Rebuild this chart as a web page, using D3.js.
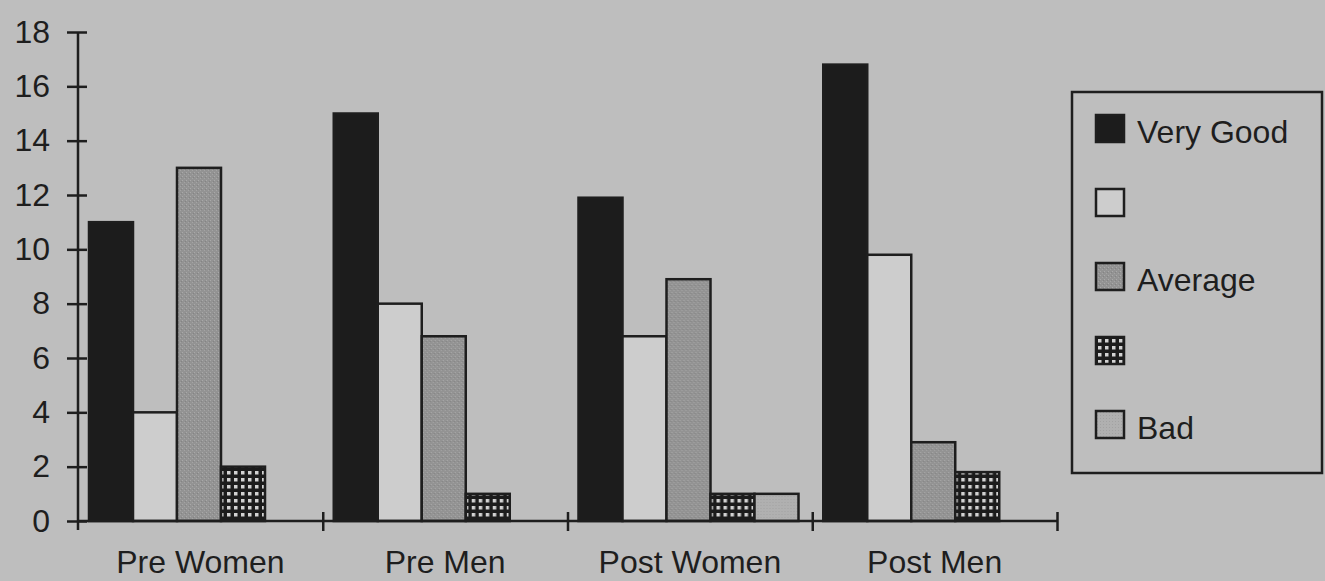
<!DOCTYPE html>
<html>
<head>
<meta charset="utf-8">
<script src="https://cdn.jsdelivr.net/npm/d3@7"></script>
<style>
  html, body { margin: 0; padding: 0; background: #bebebe; }
  svg { display: block; }
  text { font-family: "Liberation Sans", Arial, Helvetica, sans-serif; fill: #1e1e1e; }
</style>
</head>
<body>
<svg id="chart" width="1325" height="581"></svg>
<script>
// Groups along the x axis
const categories = ["Pre Women", "Pre Men", "Post Women", "Post Men"];

// Series keys (in bar order) and the names shown in the legend
const seriesKeys = ["veryGood", "good", "average", "poor", "bad"];
const seriesLabels = ["Very Good", "", "Average", "", "Bad"];

// Counts per series, one value per category
const veryGood = [11, 15, 11.9, 16.8];
const good     = [4, 8, 6.8, 9.8];
const average  = [13, 6.8, 8.9, 2.9];
const poor     = [2, 1, 1, 1.8];
const bad      = [0, 0, 1, 0];

const yTicks = [0, 2, 4, 6, 8, 10, 12, 14, 16, 18];

const seriesValues = { veryGood, good, average, poor, bad };

const svg = d3.select("#chart");
const ink = "#1e1e1e";

// Fill patterns
const defs = svg.append("defs");

const pAvg = defs.append("pattern").attr("id", "fill-average")
  .attr("patternUnits", "userSpaceOnUse").attr("width", 4).attr("height", 4);
pAvg.append("rect").attr("width", 4).attr("height", 4).attr("fill", "#939393");
pAvg.append("rect").attr("x", 0).attr("y", 0).attr("width", 1).attr("height", 1).attr("fill", "#a9a9a9");
pAvg.append("rect").attr("x", 2).attr("y", 2).attr("width", 1).attr("height", 1).attr("fill", "#a4a4a4");
pAvg.append("rect").attr("x", 3).attr("y", 1).attr("width", 1).attr("height", 1).attr("fill", "#848484");

const pBad = defs.append("pattern").attr("id", "fill-bad")
  .attr("patternUnits", "userSpaceOnUse").attr("width", 3).attr("height", 3);
pBad.append("rect").attr("width", 3).attr("height", 3).attr("fill", "#b0b0b0");
pBad.append("rect").attr("x", 1).attr("y", 1).attr("width", 1).attr("height", 1).attr("fill", "#a2a2a2");

const pPoor = defs.append("pattern").attr("id", "fill-poor")
  .attr("patternUnits", "userSpaceOnUse").attr("width", 7).attr("height", 7);
pPoor.append("rect").attr("width", 7).attr("height", 7).attr("fill", "#1c1c1c");
pPoor.append("rect").attr("x", 2).attr("y", 2).attr("width", 3.5).attr("height", 3.5).attr("fill", "#d2d2d2");

const fills = {
  veryGood: "#1c1c1c",
  good: "#cdcdcd",
  average: "url(#fill-average)",
  poor: "url(#fill-poor)",
  bad: "url(#fill-bad)"
};

// Scales
const y = d3.scaleLinear().domain([0, 18]).range([521, 32]);
const x0 = d3.scaleBand().domain(categories).range([78, 1057]).padding(0);
const x1 = d3.scaleBand().domain(seriesKeys).range([10, 230]).padding(0);

// Bars
const groups = svg.append("g").selectAll("g")
  .data(categories)
  .join("g")
  .attr("transform", d => `translate(${x0(d)},0)`);

groups.selectAll("rect")
  .data((c, i) => seriesKeys.map(k => ({ key: k, value: seriesValues[k][i] })).filter(d => d.value > 0))
  .join("rect")
  .attr("x", d => x1(d.key) + 1)
  .attr("y", d => y(d.value))
  .attr("width", x1.bandwidth())
  .attr("height", d => y(0) - y(d.value))
  .attr("fill", d => fills[d.key])
  .attr("stroke", ink)
  .attr("stroke-width", 2.5);

// Y axis with ticks crossing the line
const yAxis = svg.append("g")
  .attr("transform", "translate(78,0)")
  .call(d3.axisLeft(y).tickValues(yTicks).tickSize(0).tickPadding(28));
yAxis.select(".domain").attr("d", `M0,${y(18)}V${y(0) + 9}`)
  .attr("stroke", ink).attr("stroke-width", 2.5);
yAxis.selectAll(".tick line").attr("x1", -11).attr("x2", 9)
  .attr("stroke", ink).attr("stroke-width", 2.5);
yAxis.selectAll(".tick text")
  .style("font-size", "32px").attr("fill", ink);

// X axis: baseline with ticks at the group boundaries
const xb = d3.scaleLinear().domain([0, categories.length]).range(x0.range());
const xAxis = svg.append("g")
  .attr("transform", `translate(0,${y(0)})`)
  .call(d3.axisBottom(xb).tickValues(d3.range(1, categories.length + 1)).tickSize(0).tickFormat(""));
xAxis.select(".domain").attr("d", `M${x0.range()[0]},0H${x0.range()[1]}`)
  .attr("stroke", ink).attr("stroke-width", 2.5);
xAxis.selectAll(".tick line").attr("y1", -9).attr("y2", 10)
  .attr("stroke", ink).attr("stroke-width", 2.5);

// Category labels
svg.append("g").selectAll("text")
  .data(categories)
  .join("text")
  .attr("x", d => x0(d) + x0.bandwidth() / 2)
  .attr("y", 573)
  .attr("text-anchor", "middle")
  .style("font-size", "32px")
  .text(d => d);

// Legend
const legend = svg.append("g");
legend.append("rect")
  .attr("x", 1072).attr("y", 92).attr("width", 250).attr("height", 381)
  .attr("fill", "none").attr("stroke", ink).attr("stroke-width", 2.5);

const rows = legend.selectAll("g.row")
  .data(seriesKeys)
  .join("g")
  .attr("class", "row")
  .attr("transform", (d, i) => `translate(1096,${115 + i * 74})`);

rows.append("rect")
  .attr("width", 28).attr("height", 27)
  .attr("fill", d => fills[d])
  .attr("stroke", ink).attr("stroke-width", 2.5);

rows.append("text")
  .attr("x", 41).attr("y", 28)
  .style("font-size", "32px")
  .text((d, i) => seriesLabels[i]);
</script>
</body>
</html>
